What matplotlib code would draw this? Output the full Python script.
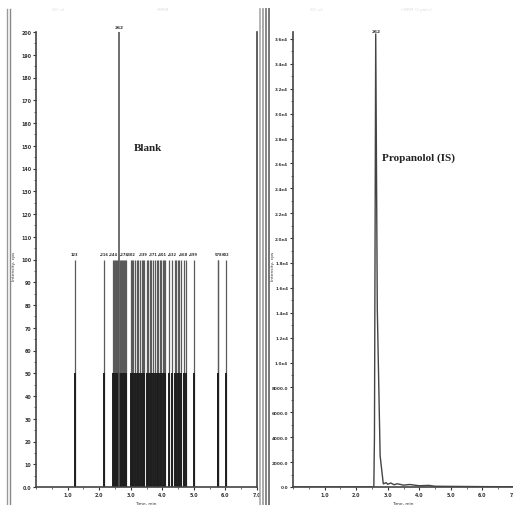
import matplotlib
matplotlib.use("Agg")
import matplotlib.pyplot as plt
from matplotlib.lines import Line2D
from matplotlib.ticker import MultipleLocator, FixedLocator

# blank chromatogram: noise spikes (time, min) reaching 100 cps
blank_times = [1.23, 2.16, 2.44, 2.47, 2.50, 2.53, 2.56, 2.59, 2.66, 2.69, 2.72,
               2.75, 2.78, 2.81, 2.86, 3.02, 3.05, 3.08, 3.12, 3.20, 3.24, 3.30,
               3.36, 3.39, 3.43, 3.50, 3.55, 3.61, 3.65, 3.71, 3.78, 3.84, 3.88,
               3.93, 3.97, 4.01, 4.05, 4.09, 4.20, 4.32, 4.40, 4.44, 4.49, 4.53,
               4.60, 4.68, 4.74, 4.99, 5.76, 5.78, 6.02]
blank_level = 100
blank_half = 50
blank_top_time = 2.62
blank_top_int = 200
blank_labels = ["1.23", "2.16", "2.44", "2.78", "3.02", "3.39", "3.71", "4.01",
                "4.32", "4.68", "4.99", "5.78", "6.02"]

# internal standard trace
is_time = [0.0, 2.56, 2.58, 2.62, 2.67, 2.76, 2.86, 2.95, 3.0, 3.1, 3.2, 3.3,
           3.5, 3.7, 4.0, 4.3, 4.5, 5.0, 6.0, 7.0]
is_int = [0, 0, 4000, 36400, 14300, 2500, 250, 350, 220, 320, 180, 260,
          150, 200, 100, 130, 60, 50, 30, 20]

W, H = 513, 506
fig = plt.figure(figsize=(W / 100, H / 100), dpi=100)
fig.patch.set_facecolor("white")


def px_axes(x0, y0, x1, y1):
    return fig.add_axes([x0 / W, 1 - y1 / H, (x1 - x0) / W, (y1 - y0) / H])


def style(ax):
    ax.spines["top"].set_visible(False)
    for s in ["left", "bottom", "right"]:
        ax.spines[s].set_color("#444444")
        ax.spines[s].set_linewidth(1.2)
    ax.tick_params(axis="both", which="major", length=2.5, width=0.8,
                   labelsize=3.4, colors="#333333", pad=1)
    ax.tick_params(axis="both", which="minor", length=1.2, width=0.6,
                   colors="#555555")
    ax.set_xlim(0, 7)
    ax.xaxis.set_major_locator(FixedLocator([1, 2, 3, 4, 5, 6, 7]))
    ax.xaxis.set_minor_locator(MultipleLocator(0.5))
    ax.set_xticklabels(["1.0", "2.0", "3.0", "4.0", "5.0", "6.0", "7.0"],
                       fontsize=3.4, fontweight="bold")


# ---- left panel: Blank
ax1 = px_axes(36, 33, 257, 488)
ax1.vlines(blank_times, 0, blank_level, color="#5a5a5a", lw=0.9)
ax1.vlines(blank_times, 0, blank_half, color="#1e1e1e", lw=1.4)
ax1.vlines([blank_top_time], 0, blank_top_int, color="#555555", lw=1.2)
ax1.set_ylim(0, 200)
ax1.yaxis.set_minor_locator(MultipleLocator(5))
style(ax1)
ax1.set_yticks(range(0, 201, 10))
ax1.set_yticklabels(["0.0"] + [str(v) for v in range(10, 201, 10)],
                    fontsize=3.4, fontweight="bold")
for i, lab in enumerate(blank_labels):
    s = lab.replace(".", "")
    if 0 < i < len(blank_labels) - 1 and i != 11:
        s = "," + s
    ax1.text(float(lab), blank_level + 1.5, s, ha="center", va="bottom",
             fontsize=2.6, fontweight="bold", color="#333333")
ax1.text(blank_top_time, blank_top_int + 1.5, "262", ha="center", va="bottom",
         fontsize=3.2, fontweight="bold", color="#333333")
ax1.text(3.1, 148, "Blank", fontsize=8, fontweight="bold",
         family="Liberation Serif", color="#222222")

# ---- right panel: Propanolol (IS)
ax2 = px_axes(293, 33, 514, 488)
ax2.plot(is_time, is_int, color="#444444", lw=1.0)
ax2.set_ylim(0, 36560)
style(ax2)
ax2.spines["right"].set_visible(False)
yt = list(range(0, 36001, 2000))
ax2.set_yticks(yt)
ax2.yaxis.set_minor_locator(MultipleLocator(1000))
ylabs = []
for v in yt:
    if v == 0:
        ylabs.append("0.0")
    elif v < 10000:
        ylabs.append(f"{v}.0")
    else:
        ylabs.append(f"{v / 10000:.1f}e4")
ax2.set_yticklabels(ylabs, fontsize=3.0, fontweight="bold")
ax2.text(2.62, 36500, "262", ha="center", va="bottom", fontsize=3.2,
         fontweight="bold", color="#333333")
ax2.text(2.82, 26300, "Propanolol (IS)", fontsize=8, fontweight="bold",
         family="Liberation Serif", color="#222222")

# axis titles
for x in (14, 273):
    fig.text(x / W, 1 - 266 / H, "Intensity, cps", rotation=90, ha="center",
             va="center", fontsize=3.2, color="#333333")
for x in (146, 403):
    fig.text(x / W, 1 - 504 / H, "Time, min", ha="center", va="center",
             fontsize=3.2, color="#333333")

# faint header fragments
for x, t in [(58, "XIC of"), (162, "+MRM"), (316, "XIC of"), (416, "+MRM (2 pairs)")]:
    fig.text(x / W, 1 - 10 / H, t, ha="center", va="center", fontsize=3.0,
             color="#dddddd")

# window borders
for x, c, lw in [(7, "#999999", 1.0), (10, "#888888", 1.0),
                 (260, "#aaaaaa", 1.2), (262.5, "#999999", 1.2),
                 (265.5, "#888888", 1.4), (268.5, "#777777", 1.4)]:
    fig.add_artist(Line2D([x / W, x / W], [0, 1 - 10 / H], color=c, lw=lw))

fig.savefig("out.png", dpi=100, facecolor="white")
